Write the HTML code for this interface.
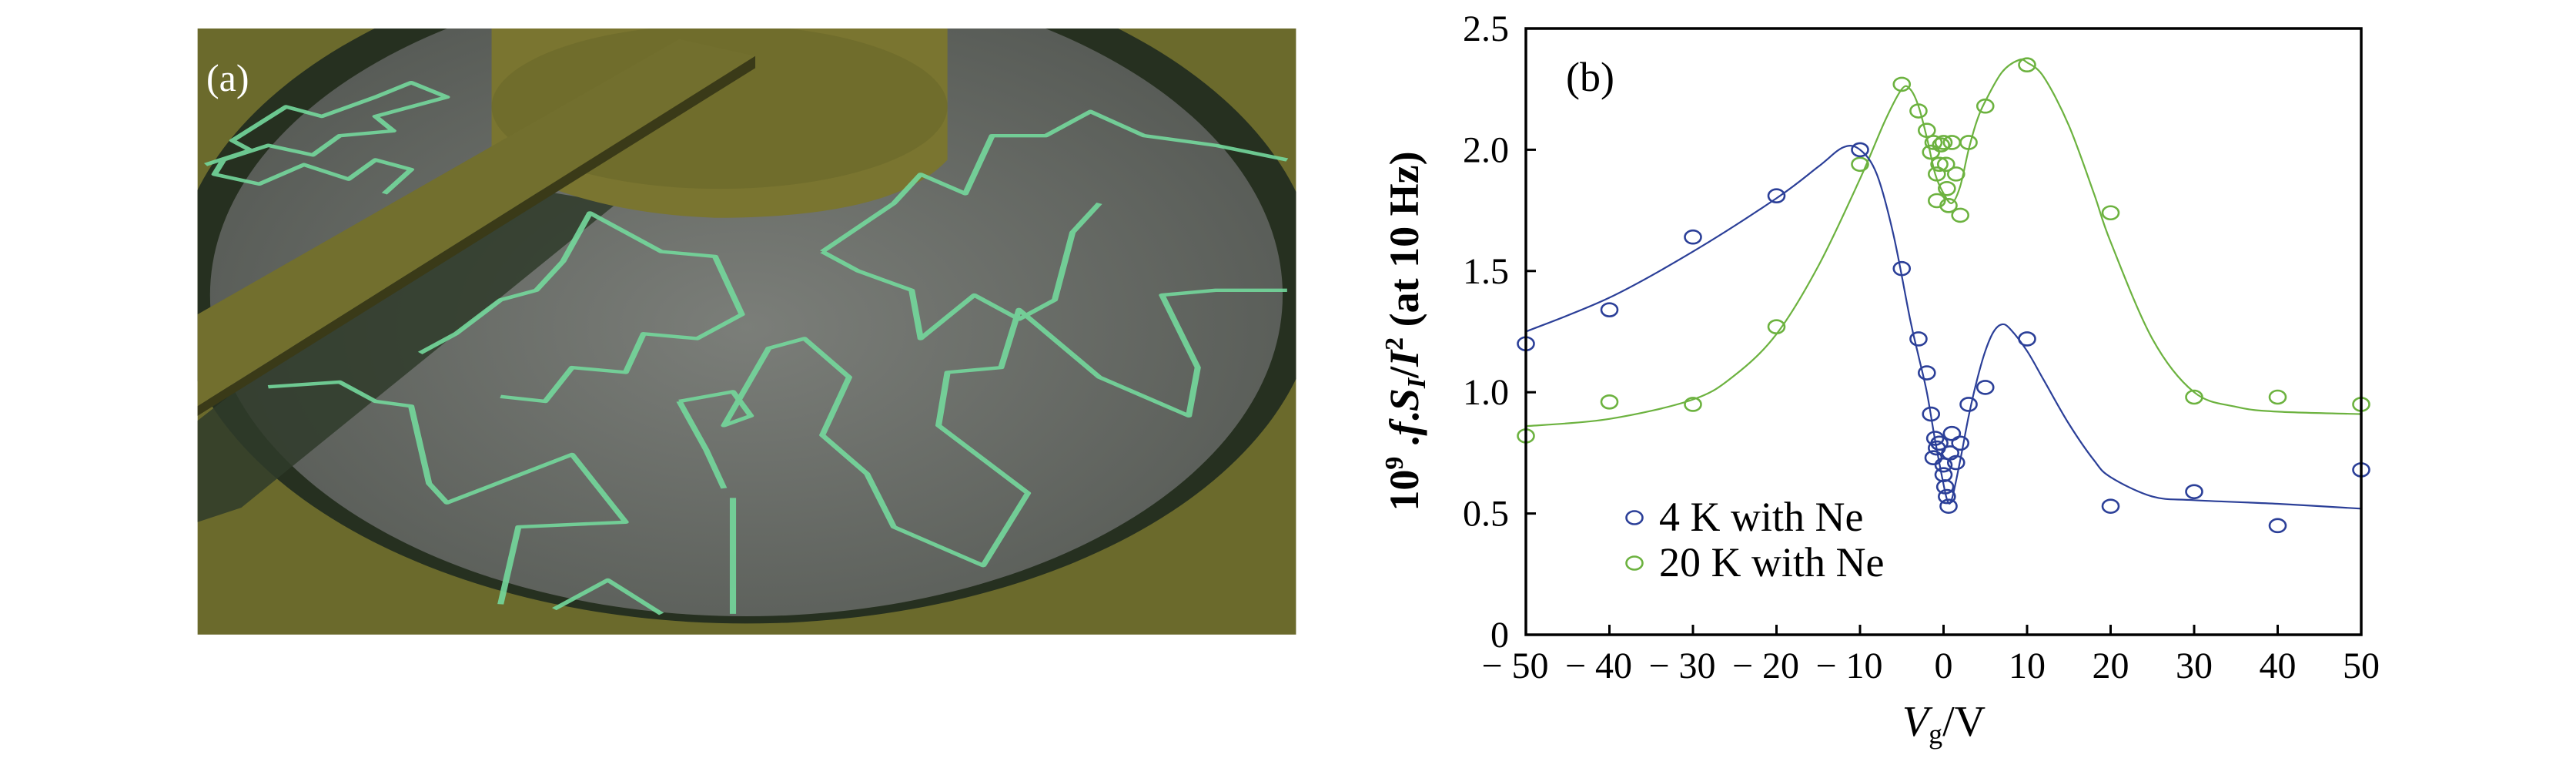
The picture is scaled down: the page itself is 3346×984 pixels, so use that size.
<!DOCTYPE html>
<html><head><meta charset="utf-8"><style>
html,body{margin:0;padding:0;background:#fff;width:3346px;height:984px;overflow:hidden}
svg{position:absolute;left:0;top:0}
text{font-family:"Liberation Serif",serif;fill:#000}
</style></head><body>
<svg width="3346" height="984" viewBox="0 0 3346 984">
<defs><clipPath id="pa"><rect x="221" y="58" width="1229" height="1255"/></clipPath>
<radialGradient id="gr" cx="0.5" cy="0.55" r="0.6"><stop offset="0" stop-color="#7b7e79"/><stop offset="1" stop-color="#545853"/></radialGradient></defs>
<g transform="translate(0,0.6) scale(1.161,0.627)">
 <g clip-path="url(#pa)">
  <rect x="221" y="58" width="1229" height="1255" fill="#6b6a2c"/>
  <ellipse cx="835" cy="590" rx="640" ry="700" fill="#263020"/>
  <ellipse cx="835" cy="610" rx="600" ry="665" fill="url(#gr)"/>
  <polygon points="221,870 221,1080 270,1050 690,420 560,380" fill="#2f3b2a" opacity="0.85"/>
  <path d="M550,58 L1060,58 L1060,330 Q1000,450 800,450 Q650,440 550,330 Z" fill="#7a7530"/>
  <ellipse cx="805" cy="220" rx="255" ry="170" fill="#706d2c"/>
  <polygon points="221,650 760,80 845,115 221,840" fill="#726f2e"/>
  <polygon points="845,115 845,140 221,860 221,840" fill="#3a3a18"/>
  <g fill="none" stroke="#74d89c" stroke-width="7" stroke-linejoin="round" opacity="0.9">
   <polyline points="230,340 280,310 260,290 320,220 360,240 420,200 460,170 500,200 420,240 440,270 380,280 350,320 300,300 250,330 240,360 290,380 340,340 390,370 420,330 460,350 430,400"/>
   <polyline points="300,800 380,790 420,830 460,840 480,1000 500,1040 640,940 700,1080 580,1090 560,1250"/>
   <polyline points="470,730 510,690 560,620 600,600 630,540 660,440 700,480 740,520 800,530 830,650 780,700 720,690 700,770 640,760 610,830 560,820"/>
   <polyline points="920,520 1000,420 1030,360 1080,400 1110,280 1170,280 1220,230 1280,280 1360,300 1440,330"/>
   <polyline points="920,520 960,560 1020,600 1030,700 1090,610 1140,660 1180,620 1200,480 1230,420"/>
   <polyline points="760,830 820,810 840,860 810,880 860,720 900,700 950,780 920,900 970,980 1000,1090 1100,1170 1150,1020 1050,880 1060,770 1120,760 1140,640 1230,780 1330,860 1340,760 1300,610 1360,600 1440,600"/>
   <polyline points="760,830 790,930 810,1010"/>
   <polyline points="820,1030 820,1270"/>
   <polyline points="620,1260 680,1200 740,1270"/>
  </g>
 </g>
</g>
<text x="268" y="118" font-size="50" style="fill:#fff">(a)</text>

<g id="chart"></g>
</svg>
<script>
const xTicks=[-50,-40,-30,-20,-10,0,10,20,30,40,50];
const yTicks=[0,0.5,1.0,1.5,2.0,2.5];
const yTickLabels=["0","0.5","1.0","1.5","2.0","2.5"];
const x4K=[-50,-40,-30,-20,-10,-5,-3,-2,-1.5,-1,-0.8,-1.2,-0.5,0,0,0.2,0.4,0.6,0.8,1,1.5,2,3,5,10,20,30,40,50];
const y4K=[1.2,1.34,1.64,1.81,2.0,1.51,1.22,1.08,0.91,0.81,0.77,0.73,0.79,0.70,0.66,0.61,0.57,0.53,0.75,0.83,0.71,0.79,0.95,1.02,1.22,0.53,0.59,0.45,0.68];
const x20K=[-50,-40,-30,-20,-10,-5,-3,-2,-1.2,-1.5,-0.8,-0.8,-0.5,-0.3,0,0.3,0.4,0.6,1,1.5,2,3,5,10,20,30,40,50];
const y20K=[0.82,0.96,0.95,1.27,1.94,2.27,2.16,2.08,2.03,1.99,1.9,1.79,1.94,2.02,2.03,1.94,1.84,1.77,2.03,1.9,1.73,2.03,2.18,2.35,1.74,0.98,0.98,0.95];
const fit4Kx=[-50,-40,-30,-20,-15,-12,-10,-8,-6,-4,-3,-2,-1,0,0.5,1,2,3,4,5,6,7,8,10,12,15,18,20,25,30,40,50];
const fit4Ky=[1.25,1.39,1.58,1.80,1.93,2.01,2.0,1.9,1.65,1.3,1.15,1.0,0.8,0.62,0.55,0.56,0.72,0.9,1.05,1.17,1.25,1.28,1.26,1.17,1.05,0.87,0.72,0.65,0.57,0.555,0.54,0.52];
const fit20Kx=[-50,-40,-30,-25,-20,-15,-10,-7,-5,-4,-3,-2,-1,0,1,2,3,4,5,7,9,10,12,15,18,20,25,30,35,40,50];
const fit20Ky=[0.86,0.89,0.97,1.07,1.24,1.52,1.88,2.12,2.25,2.25,2.18,2.05,1.9,1.82,1.78,1.85,2.0,2.12,2.2,2.32,2.37,2.36,2.3,2.1,1.82,1.62,1.22,1.0,0.94,0.92,0.91];
const L=1982,R=3067,T=37,B=824;
const sx=v=>L+(v+50)/100*(R-L), sy=v=>B-v/2.5*(B-T);
const NS="http://www.w3.org/2000/svg", g=document.getElementById('chart');
function mk(t,a,p){const e=document.createElementNS(NS,t);for(const k in a)e.setAttribute(k,a[k]);(p||g).appendChild(e);return e;}
function smooth(xs,ys){const P=xs.map((x,i)=>[sx(x),sy(ys[i])]);let d="M"+P[0][0]+","+P[0][1];
 for(let i=0;i<P.length-1;i++){const p0=P[Math.max(0,i-1)],p1=P[i],p2=P[i+1],p3=P[Math.min(P.length-1,i+2)];
 d+=" C"+(p1[0]+(p2[0]-p0[0])/6)+","+(p1[1]+(p2[1]-p0[1])/6)+" "+(p2[0]-(p3[0]-p1[0])/6)+","+(p2[1]-(p3[1]-p1[1])/6)+" "+p2[0]+","+p2[1];}return d;}
const BL="#2b3f98",GR="#6cb23f";
let e;
e=mk('path',{d:smooth(fit20Kx,fit20Ky),fill:'none',stroke:GR,'stroke-width':2.2});


e=mk('path',{d:smooth(fit4Kx,fit4Ky),fill:'none',stroke:BL,'stroke-width':2.2});


x20K.forEach((x,i)=>{const c=mk('ellipse',{cx:sx(x),cy:sy(y20K[i]),rx:10.5,ry:8.5,fill:'none',stroke:GR,'stroke-width':2.6});

});
x4K.forEach((x,i)=>{const c=mk('ellipse',{cx:sx(x),cy:sy(y4K[i]),rx:10.5,ry:8.5,fill:'none',stroke:BL,'stroke-width':2.6});

});
e=mk('rect',{x:L,y:T,width:R-L,height:B-T,fill:'none',stroke:'#000','stroke-width':3.5});


xTicks.forEach(v=>{const t=mk('line',{x1:sx(v),x2:sx(v),y1:B,y2:B-13,stroke:'#000','stroke-width':3});


const l=mk('text',{x:sx(v)+(v<0?-14:0),y:880,'font-size':48,'text-anchor':'middle'});
l.textContent=v<0?"\u2212 "+(-v):String(v);

});
yTicks.forEach((v,i)=>{const t=mk('line',{x1:L,x2:L+13,y1:sy(v),y2:sy(v),stroke:'#000','stroke-width':3});


const l=mk('text',{x:1960,y:sy(v)+16,'font-size':48,'text-anchor':'end'});
l.textContent=yTickLabels[i];

});
</script>
<svg width="3346" height="984" viewBox="0 0 3346 984" style="pointer-events:none">
<text x="2034" y="118" font-size="54">(b)</text>
<g>
<ellipse cx="2123" cy="672" rx="10.5" ry="8.5" fill="none" stroke="#2b3f98" stroke-width="2.6"/>
<text x="2155" y="689" font-size="54">4 K with Ne</text>
<ellipse cx="2123" cy="731" rx="10.5" ry="8.5" fill="none" stroke="#6cb23f" stroke-width="2.6"/>
<text x="2155" y="748" font-size="54">20 K with Ne</text>
</g>
<text x="2525" y="955" font-size="56" text-anchor="middle"><tspan font-style="italic">V</tspan><tspan font-size="36" dy="10">g</tspan><tspan dy="-10">/V</tspan></text>
<text transform="translate(1842,430) rotate(-90)" font-size="54" text-anchor="middle" font-weight="bold">10<tspan font-size="34" dy="-20">9</tspan><tspan dy="20"> .</tspan><tspan font-style="italic">f</tspan>.<tspan font-style="italic">S</tspan><tspan font-size="34" dy="9" font-style="italic">I</tspan><tspan dy="-9">/</tspan><tspan font-style="italic">I</tspan><tspan font-size="34" dy="-20">2</tspan><tspan dy="20"> (at 10 Hz)</tspan></text>
</svg>
</body></html>
